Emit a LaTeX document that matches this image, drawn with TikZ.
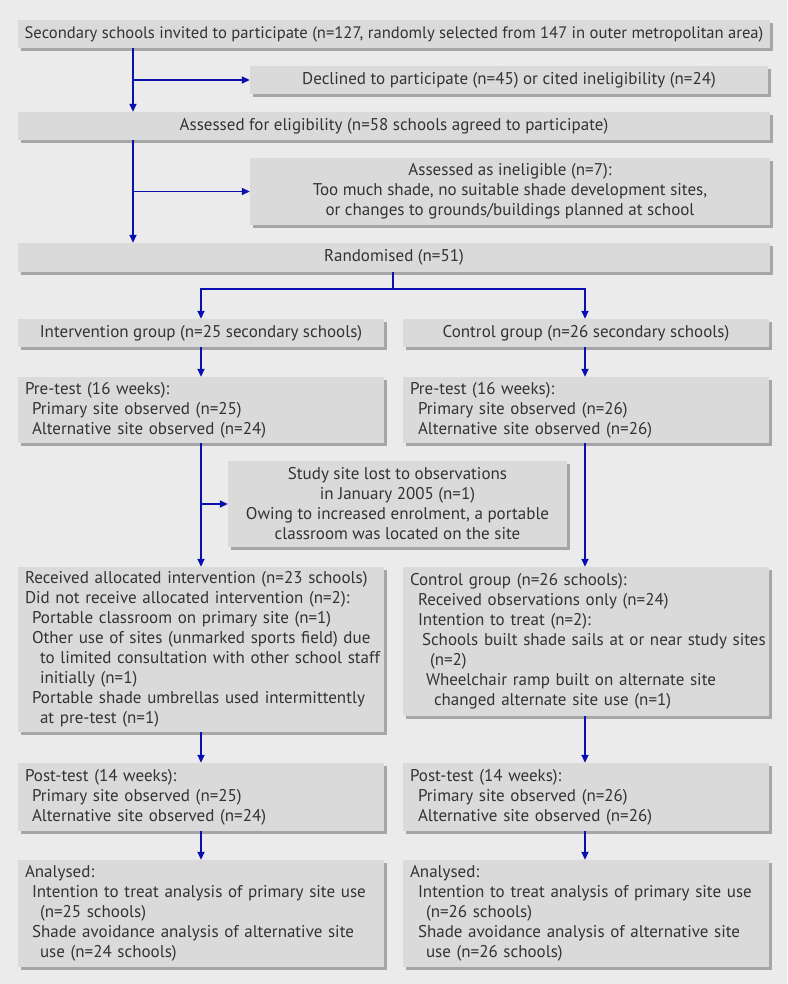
\documentclass[tikz,border=0pt]{standalone}
\usepackage{fontspec}
\setmainfont{PT Sans}
\usetikzlibrary{arrows.meta,shadows}
\definecolor{bgc}{HTML}{EBEBEB}
\definecolor{boxc}{HTML}{DADADA}
\definecolor{shc}{HTML}{A6A6A6}
\definecolor{txtc}{HTML}{333333}
\definecolor{arrc}{HTML}{0A10B0}
\newcommand{\Lx}[2][0pt]{\hspace*{#1}\mbox{#2}}
\begin{document}
\begin{tikzpicture}[x=1pt,y=-1pt,
  box/.style={fill=boxc, text=txtc, inner xsep=7pt, inner ysep=0pt,
    font=\fontsize{17}{20}\selectfont,
    drop shadow={shadow xshift=3pt,shadow yshift=-3pt,fill=shc,opacity=1}},
  cbox/.style={box, align=center},
  lbox/.style={box, align=left, text width=352pt},
  arr/.style={draw=arrc, line width=1.7pt, -{Triangle[length=8pt,width=7pt]}},
  ln/.style={draw=arrc, line width=1.7pt}]
\fill[bgc] (0,0) rectangle (787,984);
\useasboundingbox (0,0) rectangle (787,984);

\node[cbox, minimum width=752pt, minimum height=28pt, inner xsep=2pt, font=\fontsize{16.6}{20}\selectfont] (b1) at (394,34)
  {Secondary schools invited to participate (n=127, randomly selected from 147 in outer metropolitan area)};
\node[cbox, minimum width=518pt, minimum height=28pt] (b2) at (509,80)
  {Declined to participate (n=45) or cited ineligibility (n=24)};
\node[cbox, minimum width=752pt, minimum height=28pt] (b3) at (394,126)
  {Assessed for eligibility (n=58 schools agreed to participate)};
\node[cbox, minimum width=520pt, minimum height=67pt] (b4) at (510,191.5)
  {Assessed as ineligible (n=7):\\Too much shade, no suitable shade development sites,\\or changes to grounds/buildings planned at school};
\node[cbox, minimum width=752pt, minimum height=29pt] (b5) at (394,257.5)
  {Randomised (n=51)};

\node[cbox, minimum width=366pt, minimum height=28pt] (b6) at (201,333)
  {Intervention group (n=25 secondary schools)};
\node[cbox, minimum width=366pt, minimum height=28pt] (b7) at (586,333)
  {Control group (n=26 secondary schools)};

\node[lbox, minimum height=66pt] (b8) at (201,410)
  {\Lx{Pre-test (16 weeks):}\\\Lx[7pt]{Primary site observed (n=25)}\\\Lx[7pt]{Alternative site observed (n=24)}};
\node[lbox, minimum height=66pt] (b9) at (586,410)
  {\Lx{Pre-test (16 weeks):}\\\Lx[8pt]{Primary site observed (n=26)}\\\Lx[8pt]{Alternative site observed (n=26)}};

\node[cbox, minimum width=339pt, minimum height=86pt] (b10) at (397.5,504)
  {Study site lost to observations\\in January 2005 (n=1)\\Owing to increased enrolment, a portable\\classroom was located on the site};

\node[lbox, minimum height=165pt] (b11) at (201,649.5)
  {\Lx{Received allocated intervention (n=23 schools)}\\
   \Lx{Did not receive allocated intervention (n=2):}\\
   \Lx[7pt]{Portable classroom on primary site (n=1)}\\
   \Lx[7pt]{Other use of sites (unmarked sports field) due}\\
   \Lx[15pt]{to limited consultation with other school staff}\\
   \Lx[15pt]{initially (n=1)}\\
   \Lx[7pt]{Portable shade umbrellas used intermittently}\\
   \Lx[15pt]{at pre-test (n=1)}};
\node[lbox, minimum height=149pt] (b12) at (586,641.5)
  {\Lx{Control group (n=26 schools):}\\
   \Lx[8pt]{Received observations only (n=24)}\\
   \Lx[8pt]{Intention to treat (n=2):}\\
   \Lx[12pt]{Schools built shade sails at or near study sites}\\
   \Lx[20pt]{(n=2)}\\
   \Lx[16pt]{Wheelchair ramp built on alternate site}\\
   \Lx[24pt]{changed alternate site use (n=1)}};

\node[lbox, minimum height=68pt] (b13) at (201,797)
  {\Lx{Post-test (14 weeks):}\\\Lx[7pt]{Primary site observed (n=25)}\\\Lx[7pt]{Alternative site observed (n=24)}};
\node[lbox, minimum height=68pt] (b14) at (586,797)
  {\Lx{Post-test (14 weeks):}\\\Lx[8pt]{Primary site observed (n=26)}\\\Lx[8pt]{Alternative site observed (n=26)}};

\node[lbox, minimum height=107pt] (b15) at (201,913.5)
  {\Lx{Analysed:}\\\Lx[7pt]{Intention to treat analysis of primary site use}\\\Lx[15pt]{(n=25 schools)}\\\Lx[7pt]{Shade avoidance analysis of alternative site}\\\Lx[15pt]{use (n=24 schools)}};
\node[lbox, minimum height=107pt] (b16) at (586,913.5)
  {\Lx{Analysed:}\\\Lx[8pt]{Intention to treat analysis of primary site use}\\\Lx[16pt]{(n=26 schools)}\\\Lx[8pt]{Shade avoidance analysis of alternative site}\\\Lx[16pt]{use (n=26 schools)}};

% connectors
\coordinate (c1) at (133,0);
\draw[arr] (b1.south -| c1) -- (b3.north -| c1);
\draw[arr] (b2.west -| c1) -- (b2.west);
\draw[arr] (b3.south -| c1) -- (b5.north -| c1);
\draw[arr] (b4.west -| c1) -- (b4.west);

\coordinate (r) at (393,289);
\draw[ln] (b5.south -| r) -- (r);
\draw[arr] (r) -| (b6.north -| 201,0);
\draw[arr] (r) -| (b7.north -| 585,0);

\draw[arr] (b6.south -| 201,0) -- (b8.north -| 201,0);
\draw[arr] (b7.south -| 585,0) -- (b9.north -| 585,0);
\draw[arr] (b8.south -| 201,0) -- (b11.north -| 201,0);
\draw[arr] (b10.west -| 201,0) -- (b10.west);
\draw[arr] (b9.south -| 585,0) -- (b12.north -| 585,0);
\draw[arr] (b11.south -| 201,0) -- (b13.north -| 201,0);
\draw[arr] (b12.south -| 585,0) -- (b14.north -| 585,0);
\draw[arr] (b13.south -| 201,0) -- (b15.north -| 201,0);
\draw[arr] (b14.south -| 585,0) -- (b16.north -| 585,0);
\end{tikzpicture}
\end{document}
